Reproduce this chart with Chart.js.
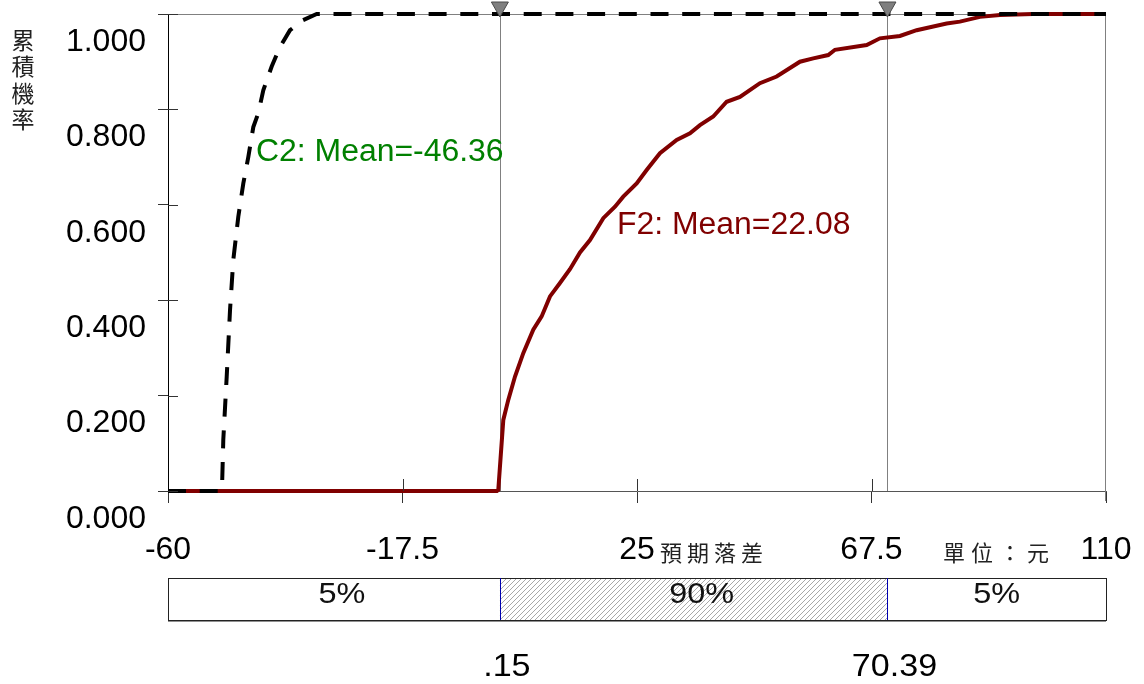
<!DOCTYPE html>
<html>
<head>
<meta charset="utf-8">
<script src="https://cdn.jsdelivr.net/npm/chart.js@4/dist/chart.umd.min.js"></script>
<style>
  html, body { margin: 0; padding: 0; background: #fff; }
</style>
</head>
<body>
<canvas id="myChart" width="1144" height="684"></canvas>
<script>
// axis ticks
let xTicks = [-60, -17.5, 25, 67.5, 110];
let yTicks = [0, 0.2, 0.4, 0.6, 0.8, 1.0];

// C2 cumulative curve (dashed)
let c2X = [-60, -50.58, -50.2, -49.98, -49.36, -48.76, -48.17, -47.26, -46.35, -45.45, -44.54, -43.64, -42.73, -41.21, -39.7, -37.89, -35.53, -33.05, 110];
let c2Y = [0, 0, 0.01, 0.107, 0.24, 0.379, 0.484, 0.575, 0.645, 0.7, 0.763, 0.792, 0.84, 0.89, 0.931, 0.966, 0.987, 1, 1];

// F2 cumulative curve
let f2X = [-60, -0.38, -0.14, 0.77, 1.67, 2.89, 4.39, 6.2, 7.72, 9.23, 11.04, 12.85, 14.67, 16.48, 18.89, 21.01, 22.51, 24.94, 26.75, 29.16, 32.19, 34.6, 36.41, 38.82, 41.25, 43.66, 47.28, 50.31, 54.53, 56.94, 59.66, 60.88, 66.62, 69.03, 72.65, 75.68, 81.12, 83.53, 87.15, 90.78, 96.76, 110];
let f2Y = [0, 0, 0.002, 0.149, 0.191, 0.24, 0.289, 0.338, 0.366, 0.408, 0.436, 0.465, 0.5, 0.526, 0.572, 0.596, 0.617, 0.645, 0.673, 0.708, 0.736, 0.75, 0.767, 0.785, 0.816, 0.826, 0.855, 0.869, 0.9, 0.907, 0.914, 0.925, 0.935, 0.949, 0.954, 0.966, 0.98, 0.984, 0.994, 0.998, 1, 1];

let seriesNames = ['C2', 'F2'];
let seriesMeans = [-46.36, 22.08];

// 5% / 90% / 5% band
let cutoffs = [0.15, 70.39];
let cutoffLabels = ['.15', '70.39'];
let bandLabels = ['5%', '90%', '5%'];

const FONT = "'Liberation Sans', Arial, sans-serif";
const CJK = "'Noto Sans CJK TC', 'Noto Sans CJK SC', sans-serif";

function pts(xs, ys) {
  return xs.map((x, i) => ({ x: x, y: ys[i] }));
}

// text a bit wider than the font, like the original
function wideText(ctx, t, x, y, align, sx) {
  ctx.save();
  ctx.translate(x, y);
  ctx.scale(sx, 1);
  ctx.textAlign = align;
  ctx.fillText(t, 0, 0);
  ctx.restore();
}

function makeHatch() {
  let c = document.createElement('canvas');
  c.width = 5; c.height = 5;
  let g = c.getContext('2d');
  g.strokeStyle = '#a8a8a8';
  g.lineWidth = 1;
  g.beginPath();
  g.moveTo(0, 5); g.lineTo(5, 0);
  g.moveTo(-1, 1); g.lineTo(1, -1);
  g.moveTo(4, 6); g.lineTo(6, 4);
  g.stroke();
  return g.createPattern(c, 'repeat');
}

const extras = {
  id: 'extras',
  beforeDatasetsDraw(chart) {
    let ctx = chart.ctx, a = chart.chartArea, xs = chart.scales.x;
    ctx.save();
    ctx.strokeStyle = '#808080';
    ctx.lineWidth = 1;
    ctx.beginPath();
    ctx.moveTo(a.left, a.top + 0.5); ctx.lineTo(a.right, a.top + 0.5);
    ctx.moveTo(a.right - 0.5, a.top); ctx.lineTo(a.right - 0.5, a.bottom + 10);
    cutoffs.forEach(v => {
      let px = Math.round(xs.getPixelForValue(v)) + 0.5;
      ctx.moveTo(px, a.top); ctx.lineTo(px, a.bottom);
    });
    ctx.stroke();
    ctx.restore();
  },
  afterDatasetsDraw(chart) {
    let ctx = chart.ctx, a = chart.chartArea, xs = chart.scales.x, ys = chart.scales.y;
    ctx.save();
    // markers on top
    cutoffs.forEach(v => {
      let px = xs.getPixelForValue(v);
      ctx.beginPath();
      ctx.moveTo(px - 8.5, a.top - 12);
      ctx.lineTo(px + 8.5, a.top - 12);
      ctx.lineTo(px, a.top + 3);
      ctx.closePath();
      ctx.fillStyle = '#7f7f7f';
      ctx.fill();
      ctx.strokeStyle = '#4a4a4a';
      ctx.lineWidth = 1;
      ctx.stroke();
    });
    // inner tick stubs
    ctx.strokeStyle = '#333';
    ctx.beginPath();
    xTicks.slice(1, -1).forEach(v => {
      let px = Math.round(xs.getPixelForValue(v)) + 0.5;
      ctx.moveTo(px, a.bottom); ctx.lineTo(px, a.bottom - 12);
    });
    yTicks.forEach(v => {
      let py = Math.round(ys.getPixelForValue(v)) + 0.5;
      ctx.moveTo(a.left, py); ctx.lineTo(a.left + 10, py);
    });
    ctx.stroke();

    // mean labels
    ctx.font = '31px ' + FONT;
    ctx.textBaseline = 'middle';
    ctx.fillStyle = '#008000';
    wideText(ctx, seriesNames[0] + ': Mean=' + seriesMeans[0], xs.getPixelForValue(-44.05), ys.getPixelForValue(0.709), 'left', 1.03);
    ctx.fillStyle = '#800000';
    wideText(ctx, seriesNames[1] + ': Mean=' + seriesMeans[1], xs.getPixelForValue(21.37), ys.getPixelForValue(0.556), 'left', 1.03);
    ctx.restore();
  },
  afterDraw(chart) {
    let ctx = chart.ctx, xs = chart.scales.x;
    ctx.save();
    // y axis title, stacked vertically
    ctx.font = '23px ' + CJK;
    ctx.fillStyle = '#222';
    ctx.textAlign = 'center';
    ctx.textBaseline = 'middle';
    ['累', '積', '機', '率'].forEach((ch, i) => ctx.fillText(ch, 23, 40 + i * 26.5));
    // x axis titles
    ctx.font = '22px ' + CJK;
    ['預', '期', '落', '差'].forEach((ch, i) => ctx.fillText(ch, 671 + i * 27, 553));
    ['單', '位', '：', '元'].forEach((ch, i) => ctx.fillText(ch, 954 + i * 28, 553));

    // band box
    let x0 = xs.getPixelForValue(-60), x3 = xs.getPixelForValue(110);
    let x1 = xs.getPixelForValue(cutoffs[0]), x2 = xs.getPixelForValue(cutoffs[1]);
    let top = 578, bot = 620;
    ctx.fillStyle = makeHatch();
    ctx.fillRect(x1, top, x2 - x1, bot - top);
    ctx.strokeStyle = '#222';
    ctx.lineWidth = 1;
    ctx.strokeRect(Math.round(x0) + 0.5, top + 0.5, Math.round(x3 - x0), bot - top);
    ctx.beginPath();
    ctx.moveTo(x0, bot + 1); ctx.lineTo(x3, bot + 1);
    ctx.stroke();
    ctx.strokeStyle = '#0000b0';
    ctx.beginPath();
    [x1, x2].forEach(px => { px = Math.round(px) + 0.5; ctx.moveTo(px, top); ctx.lineTo(px, bot); });
    ctx.stroke();

    ctx.font = '30px ' + FONT;
    ctx.fillStyle = '#111';
    ctx.textBaseline = 'middle';
    let mids = [(x0 + x1) / 2 + 8, (x1 + x2) / 2 + 8, (x2 + x3) / 2];
    bandLabels.forEach((t, i) => wideText(ctx, t, mids[i], 595, 'center', 1.08));

    ctx.font = '31px ' + FONT;
    ctx.fillStyle = '#000';
    cutoffLabels.forEach((t, i) => wideText(ctx, t, xs.getPixelForValue(cutoffs[i]) + 7, 667, 'center', 1.1));
    ctx.restore();
  }
};

let ctx = document.getElementById('myChart').getContext('2d');
let myChart = new Chart(ctx, {
  type: 'line',
  data: {
    datasets: [{
      label: seriesNames[0],
      data: pts(c2X, c2Y),
      borderColor: '#000',
      borderWidth: 4,
      borderDash: [18, 13.7],
      pointRadius: 0,
      tension: 0,
      clip: false
    }, {
      label: seriesNames[1],
      data: pts(f2X, f2Y),
      borderColor: '#800000',
      borderWidth: 4,
      pointRadius: 0,
      tension: 0,
      clip: false
    }]
  },
  options: {
    responsive: false,
    animation: false,
    devicePixelRatio: 1,
    layout: { padding: { top: 14, right: 38, left: 0, bottom: 0 } },
    plugins: {
      legend: { display: false },
      tooltip: { enabled: false }
    },
    scales: {
      x: {
        type: 'linear',
        min: -60,
        max: 110,
        afterFit: (s) => { s.height = 193; s.paddingLeft = 0; s.paddingRight = 0; },
        afterBuildTicks: (s) => { s.ticks = xTicks.map(v => ({ value: v })); },
        grid: { drawOnChartArea: false, tickLength: 12, color: '#333' },
        border: { color: '#555', width: 1 },
        ticks: {
          color: '#000',
          padding: 28,
          maxRotation: 0,
          autoSkip: false,
          font: { family: FONT, size: 32 },
          callback: (v) => String(v)
        }
      },
      y: {
        type: 'linear',
        min: 0,
        max: 1,
        afterFit: (s) => { s.width = 168; s.paddingTop = 0; s.paddingBottom = 0; },
        afterBuildTicks: (s) => { s.ticks = yTicks.map(v => ({ value: v })); },
        grid: { drawOnChartArea: false, tickLength: 10, color: '#333' },
        border: { color: '#000', width: 1 },
        ticks: {
          color: '#000',
          padding: 12,
          labelOffset: 28,
          font: { family: FONT, size: 32 },
          callback: (v) => v.toFixed(3)
        }
      }
    }
  },
  plugins: [extras]
});
</script>
</body>
</html>
